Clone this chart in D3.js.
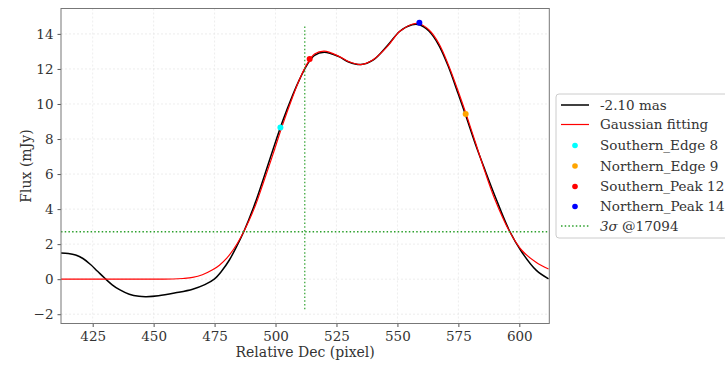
<!DOCTYPE html>
<html><head><meta charset="utf-8">
<script src="https://cdn.jsdelivr.net/npm/d3@7"></script>
<style>body{margin:0;background:#fff}svg{display:block}</style>
</head><body>
<svg id="c" width="725" height="369"></svg>
<script>
const xTicks = [425, 450, 475, 500, 525, 550, 575, 600];
const yTicks = [-2, 0, 2, 4, 6, 8, 10, 12, 14];

const blackX = [412,415,418,421,424,427,430,433,436,440,444,447,452,459,466,471,475,478,481,484,487,491,495,499,503,507,510,513,516,520,526,530,535,540,546,551,556,559,563,567,571,575,578,582,586,590,596,601,607,612];
const blackY = [1.50,1.47,1.38,1.18,0.85,0.45,0.05,-0.32,-0.60,-0.86,-0.98,-1.00,-0.95,-0.78,-0.57,-0.31,0.02,0.48,1.08,1.85,2.72,4.1,5.72,7.42,9.05,10.5,11.45,12.25,12.78,12.95,12.7,12.4,12.25,12.5,13.35,14.15,14.52,14.52,14.15,13.35,12.1,10.55,9.35,7.7,6.2,4.75,2.75,1.55,0.5,0.02];

const redX = [412,430,450,458,462,466,470,474,477,480,483,486,489,492,495,499,503,507,510,513,516,520,526,530,535,540,546,551,556,559,563,567,571,575,578,582,586,590,596,601,607,612];
const redY = [0,0,0,0.01,0.04,0.1,0.25,0.52,0.8,1.2,1.75,2.45,3.3,4.3,5.5,7.15,8.85,10.4,11.45,12.3,12.85,13.02,12.72,12.42,12.25,12.52,13.3,14.15,14.55,14.58,14.22,13.45,12.2,10.7,9.5,7.8,6.1,4.55,2.72,1.65,0.95,0.58];

const pointNames = ["Southern_Edge 8", "Northern_Edge 9", "Southern_Peak 12", "Northern_Peak 14"];
const pointX = [502, 578, 514, 559];
const pointY = [8.66, 9.43, 12.57, 14.63];
const pointColors = ["#00ffff", "#ffa500", "#ff0000", "#0000ff"];

const sigmaLevel = 2.7;
const vLineX = 512;
const vLineY = [-1.71, 14.5];

const svg = d3.select("#c");
const L = 61, R = 549.3, T = 8.5, B = 323.5;
const x = d3.scaleLinear().domain([412, 612.3]).range([L, R]);
const y = d3.scaleLinear().domain([-2.53, 15.45]).range([B, T]);
const font = "'DejaVu Serif', serif";
const txt = "#333";

// grid
const g = svg.append("g");
g.selectAll(".gx").data(xTicks).join("line")
  .attr("x1", d => x(d)).attr("x2", d => x(d)).attr("y1", T).attr("y2", B)
  .attr("stroke", "#e8e8e8").attr("stroke-width", 0.8).attr("stroke-dasharray", "2,2");
g.selectAll(".gy").data(yTicks).join("line")
  .attr("y1", d => y(d)).attr("y2", d => y(d)).attr("x1", L).attr("x2", R)
  .attr("stroke", "#e8e8e8").attr("stroke-width", 0.8).attr("stroke-dasharray", "2,2");

const clip = svg.append("clipPath").attr("id", "clp").append("rect")
  .attr("x", L).attr("y", T).attr("width", R - L).attr("height", B - T);
const plot = svg.append("g").attr("clip-path", "url(#clp)");

const line = d3.line().curve(d3.curveCatmullRom.alpha(0.5));
plot.append("path").attr("d", line(blackX.map((d, i) => [x(d), y(blackY[i])])))
  .attr("fill", "none").attr("stroke", "#000").attr("stroke-width", 1.5);
plot.append("path").attr("d", line(redX.map((d, i) => [x(d), y(redY[i])])))
  .attr("fill", "none").attr("stroke", "#ff0000").attr("stroke-width", 1.2);

plot.selectAll(".pt").data(pointX).join("circle")
  .attr("cx", d => x(d)).attr("cy", (d, i) => y(pointY[i])).attr("r", 3)
  .attr("fill", (d, i) => pointColors[i]);

const green = "#2ca02c";
plot.append("line").attr("x1", L).attr("x2", R).attr("y1", y(sigmaLevel)).attr("y2", y(sigmaLevel))
  .attr("stroke", green).attr("stroke-width", 1.5).attr("stroke-dasharray", "1.5,2.2");
plot.append("line").attr("x1", x(vLineX)).attr("x2", x(vLineX)).attr("y1", y(vLineY[0])).attr("y2", y(vLineY[1]))
  .attr("stroke", green).attr("stroke-width", 1.2).attr("stroke-dasharray", "1.5,2.2");

// axes
const xAxis = svg.append("g").attr("transform", `translate(0,${B})`)
  .call(d3.axisBottom(x).tickValues(xTicks).tickSize(3.5).tickPadding(4).tickFormat(d3.format("d")));
const yAxis = svg.append("g").attr("transform", `translate(${L},0)`)
  .call(d3.axisLeft(y).tickValues(yTicks).tickSize(3.5).tickPadding(4).tickFormat(d => d < 0 ? "\u2212" + Math.abs(d) : d));
[xAxis, yAxis].forEach(a => {
  a.select(".domain").remove();
  a.selectAll("line").attr("stroke", "#555");
  a.selectAll("text").attr("font-family", font).attr("font-size", 13.5).attr("fill", txt);
});

svg.append("rect").attr("x", L).attr("y", T).attr("width", R - L).attr("height", B - T)
  .attr("fill", "none").attr("stroke", "#777").attr("stroke-width", 1);

svg.append("text").attr("x", (L + R) / 2).attr("y", 357).attr("text-anchor", "middle")
  .attr("font-family", font).attr("font-size", 14).attr("fill", txt).text("Relative Dec (pixel)");
svg.append("text").attr("transform", `translate(31,${(T + B) / 2}) rotate(-90)`).attr("text-anchor", "middle")
  .attr("font-family", font).attr("font-size", 14).attr("fill", txt).text("Flux (mJy)");

// legend
const lg = svg.append("g");
lg.append("rect").attr("x", 556).attr("y", 94).attr("width", 180).attr("height", 144).attr("rx", 3)
  .attr("fill", "#fff").attr("stroke", "#ccc").attr("stroke-width", 1);
const rows = [105, 124.5, 145.5, 166, 186.5, 206.5, 226];
const labels = ["-2.10 mas", "Gaussian fitting"].concat(pointNames);
labels.forEach((t, i) => {
  const yy = rows[i];
  if (i === 0) lg.append("line").attr("x1", 561).attr("x2", 589).attr("y1", yy).attr("y2", yy).attr("stroke", "#000").attr("stroke-width", 1.5);
  else if (i === 1) lg.append("line").attr("x1", 561).attr("x2", 589).attr("y1", yy).attr("y2", yy).attr("stroke", "#ff0000").attr("stroke-width", 1.2);
  else lg.append("circle").attr("cx", 575).attr("cy", yy).attr("r", 2.8).attr("fill", pointColors[i - 2]);
  lg.append("text").attr("x", 600).attr("y", yy + 4.5).attr("font-family", font).attr("font-size", 13.5).attr("fill", txt).text(t);
});
lg.append("line").attr("x1", 561).attr("x2", 589).attr("y1", rows[6]).attr("y2", rows[6])
  .attr("stroke", green).attr("stroke-width", 1.5).attr("stroke-dasharray", "1.5,2.2");
const st = lg.append("text").attr("x", 600).attr("y", rows[6] + 4.5).attr("font-family", font).attr("font-size", 13.5).attr("fill", txt);
st.append("tspan").attr("font-style", "italic").text("3\u03c3");
st.append("tspan").text(" @17094");
</script>
</body></html>
